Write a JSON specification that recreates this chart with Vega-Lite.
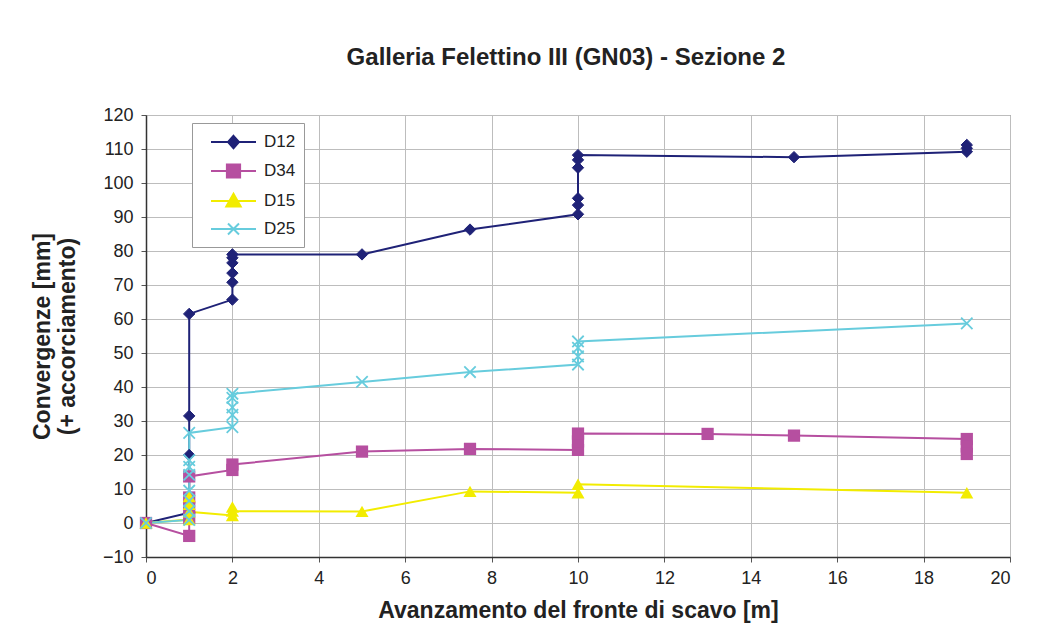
{
  "$schema": "https://vega.github.io/schema/vega-lite/v6.json",
  "width": 864,
  "height": 442,
  "autosize": "none",
  "padding": {"left": 146, "top": 115, "right": 36, "bottom": 82},
  "background": "white",
  "config": {
    "font": "Liberation Sans",
    "view": {"stroke": "#666", "strokeWidth": 1},
    "axis": {
      "labelFontSize": 18,
      "labelColor": "#222",
      "titleFontSize": 23,
      "titleFontWeight": "bold",
      "titleColor": "#222",
      "gridColor": "#BDBDBD",
      "gridWidth": 1,
      "tickColor": "#555",
      "tickSize": 5,
      "domainColor": "#333",
      "domainWidth": 1.5
    }
  },
  "title": {
    "text": "Galleria Felettino III (GN03) - Sezione 2",
    "fontSize": 24,
    "fontWeight": "bold",
    "color": "#222",
    "offset": 36,
    "dx": -12,
    "anchor": "middle"
  },
  "data": {
    "values": [
      {"s": "D12", "o": 1, "x": 0, "y": 0},
      {"s": "D12", "o": 2, "x": 1, "y": 3},
      {"s": "D12", "o": 3, "x": 1, "y": 20},
      {"s": "D12", "o": 4, "x": 1, "y": 31.5},
      {"s": "D12", "o": 5, "x": 1, "y": 61.5},
      {"s": "D12", "o": 6, "x": 2, "y": 65.7},
      {"s": "D12", "o": 7, "x": 2, "y": 70.8},
      {"s": "D12", "o": 8, "x": 2, "y": 73.5},
      {"s": "D12", "o": 9, "x": 2, "y": 76.5},
      {"s": "D12", "o": 10, "x": 2, "y": 78},
      {"s": "D12", "o": 11, "x": 2, "y": 79},
      {"s": "D12", "o": 12, "x": 5, "y": 79},
      {"s": "D12", "o": 13, "x": 7.5, "y": 86.3},
      {"s": "D12", "o": 14, "x": 10, "y": 90.8},
      {"s": "D12", "o": 15, "x": 10, "y": 93.5},
      {"s": "D12", "o": 16, "x": 10, "y": 95.5},
      {"s": "D12", "o": 17, "x": 10, "y": 104.5},
      {"s": "D12", "o": 18, "x": 10, "y": 106.8},
      {"s": "D12", "o": 19, "x": 10, "y": 108.2},
      {"s": "D12", "o": 20, "x": 15, "y": 107.6},
      {"s": "D12", "o": 21, "x": 19, "y": 109.2},
      {"s": "D12", "o": 22, "x": 19, "y": 110.2},
      {"s": "D12", "o": 23, "x": 19, "y": 111.2},

      {"s": "D34", "o": 1, "x": 0, "y": 0},
      {"s": "D34", "o": 2, "x": 1, "y": -3.8},
      {"s": "D34", "o": 3, "x": 1, "y": 1.5},
      {"s": "D34", "o": 4, "x": 1, "y": 4.5},
      {"s": "D34", "o": 5, "x": 1, "y": 7.5},
      {"s": "D34", "o": 6, "x": 1, "y": 13.7},
      {"s": "D34", "o": 7, "x": 2, "y": 15.6},
      {"s": "D34", "o": 8, "x": 2, "y": 17.2},
      {"s": "D34", "o": 9, "x": 5, "y": 21},
      {"s": "D34", "o": 10, "x": 7.5, "y": 21.8},
      {"s": "D34", "o": 11, "x": 10, "y": 21.5},
      {"s": "D34", "o": 12, "x": 10, "y": 24},
      {"s": "D34", "o": 13, "x": 10, "y": 26.3},
      {"s": "D34", "o": 14, "x": 13, "y": 26.2},
      {"s": "D34", "o": 15, "x": 15, "y": 25.7},
      {"s": "D34", "o": 16, "x": 19, "y": 24.7},
      {"s": "D34", "o": 17, "x": 19, "y": 22.5},
      {"s": "D34", "o": 18, "x": 19, "y": 20.3},

      {"s": "D15", "o": 1, "x": 0, "y": 0},
      {"s": "D15", "o": 2, "x": 1, "y": 1},
      {"s": "D15", "o": 3, "x": 1, "y": 5.5},
      {"s": "D15", "o": 4, "x": 1, "y": 7.8},
      {"s": "D15", "o": 5, "x": 1, "y": 3.3},
      {"s": "D15", "o": 6, "x": 2, "y": 2.2},
      {"s": "D15", "o": 7, "x": 2, "y": 4.7},
      {"s": "D15", "o": 8, "x": 2, "y": 3.5},
      {"s": "D15", "o": 9, "x": 5, "y": 3.4},
      {"s": "D15", "o": 10, "x": 7.5, "y": 9.3},
      {"s": "D15", "o": 11, "x": 10, "y": 8.9},
      {"s": "D15", "o": 12, "x": 10, "y": 11.4},
      {"s": "D15", "o": 13, "x": 19, "y": 8.9},

      {"s": "D25", "o": 1, "x": 0, "y": 0},
      {"s": "D25", "o": 2, "x": 1, "y": 0.9},
      {"s": "D25", "o": 3, "x": 1, "y": 3.5},
      {"s": "D25", "o": 4, "x": 1, "y": 6.5},
      {"s": "D25", "o": 5, "x": 1, "y": 9.5},
      {"s": "D25", "o": 6, "x": 1, "y": 14.2},
      {"s": "D25", "o": 7, "x": 1, "y": 16.5},
      {"s": "D25", "o": 8, "x": 1, "y": 18.5},
      {"s": "D25", "o": 9, "x": 1, "y": 26.5},
      {"s": "D25", "o": 10, "x": 2, "y": 28.2},
      {"s": "D25", "o": 11, "x": 2, "y": 31.8},
      {"s": "D25", "o": 12, "x": 2, "y": 34},
      {"s": "D25", "o": 13, "x": 2, "y": 36.8},
      {"s": "D25", "o": 14, "x": 2, "y": 38},
      {"s": "D25", "o": 15, "x": 5, "y": 41.5},
      {"s": "D25", "o": 16, "x": 7.5, "y": 44.4},
      {"s": "D25", "o": 17, "x": 10, "y": 46.6},
      {"s": "D25", "o": 18, "x": 10, "y": 49},
      {"s": "D25", "o": 19, "x": 10, "y": 51.5},
      {"s": "D25", "o": 20, "x": 10, "y": 53.4},
      {"s": "D25", "o": 21, "x": 19, "y": 58.7}
    ]
  },
  "encoding": {
    "x": {
      "field": "x",
      "type": "quantitative",
      "scale": {"domain": [0, 20], "nice": false, "zero": false},
      "axis": {
        "values": [0, 2, 4, 6, 8, 10, 12, 14, 16, 18, 20],
        "title": "Avanzamento del fronte di scavo [m]",
        "labelPadding": 7,
        "titlePadding": 12,
        "domain": true
      }
    },
    "y": {
      "field": "y",
      "type": "quantitative",
      "scale": {"domain": [-10, 120], "nice": false, "zero": false},
      "axis": {
        "values": [-10, 0, 10, 20, 30, 40, 50, 60, 70, 80, 90, 100, 110, 120],
        "title": ["Convergenze [mm]", "(+ accorciamento)"],
        "titleLineHeight": 25,
        "labelPadding": 8,
        "titlePadding": 23
      }
    },
    "color": {
      "field": "s",
      "type": "nominal",
      "scale": {
        "domain": ["D12", "D34", "D15", "D25"],
        "range": ["#1F2277", "#B64FA0", "#F2EC00", "#67CCDD"]
      },
      "legend": {
        "title": null,
        "orient": "none",
        "legendX": 46,
        "legendY": 8,
        "fillColor": "white",
        "strokeColor": "#999",
        "padding": 8,
        "symbolSize": 400,
        "symbolOffset": 22.5,
        "labelOffset": 19.5,
        "rowPadding": 7,
        "labelFontSize": 17,
        "labelColor": "#222",
        "encode": {
          "symbols": {
            "update": {
              "shape": {"signal": "datum.value === 'D12' ? 'M-2.25,0L2.25,0M0,-0.62L0.55,0L0,0.62L-0.55,0Z' : datum.value === 'D34' ? 'M-2.25,0L2.25,0M-0.66,-0.66L0.66,-0.66L0.66,0.66L-0.66,0.66Z' : datum.value === 'D15' ? 'M-2.25,0L2.25,0M0,-0.72L0.72,0.55L-0.72,0.55Z' : 'M-2.25,0L2.25,0M-0.55,-0.55L0.55,0.55M-0.55,0.55L0.55,-0.55'"},
              "size": {"value": 400},
              "fill": {"scale": "color", "field": "value"},
              "stroke": {"scale": "color", "field": "value"},
              "strokeWidth": {"value": 2},
              "opacity": {"value": 1},
              "fillOpacity": {"value": 1}
            }
          }
        }
      }
    }
  },
  "layer": [
    {
      "mark": {"type": "line", "strokeWidth": 2},
      "encoding": {"order": {"field": "o", "type": "quantitative"}}
    },
    {
      "transform": [{"filter": "datum.s === 'D12'"}],
      "mark": {"type": "point", "shape": "diamond", "filled": true, "opacity": 1, "size": 130, "stroke": "#1F2277", "strokeWidth": 1}
    },
    {
      "transform": [{"filter": "datum.s === 'D34'"}],
      "mark": {"type": "point", "shape": "square", "filled": true, "opacity": 1, "size": 150}
    },
    {
      "transform": [{"filter": "datum.s === 'D15'"}],
      "mark": {"type": "point", "shape": "triangle-up", "filled": true, "opacity": 1, "size": 170}
    },
    {
      "transform": [{"filter": "datum.s === 'D25'"}],
      "mark": {"type": "point", "shape": "M-1,-1L1,1M-1,1L1,-1", "filled": false, "opacity": 1, "size": 130, "strokeWidth": 1.8}
    }
  ]
}
